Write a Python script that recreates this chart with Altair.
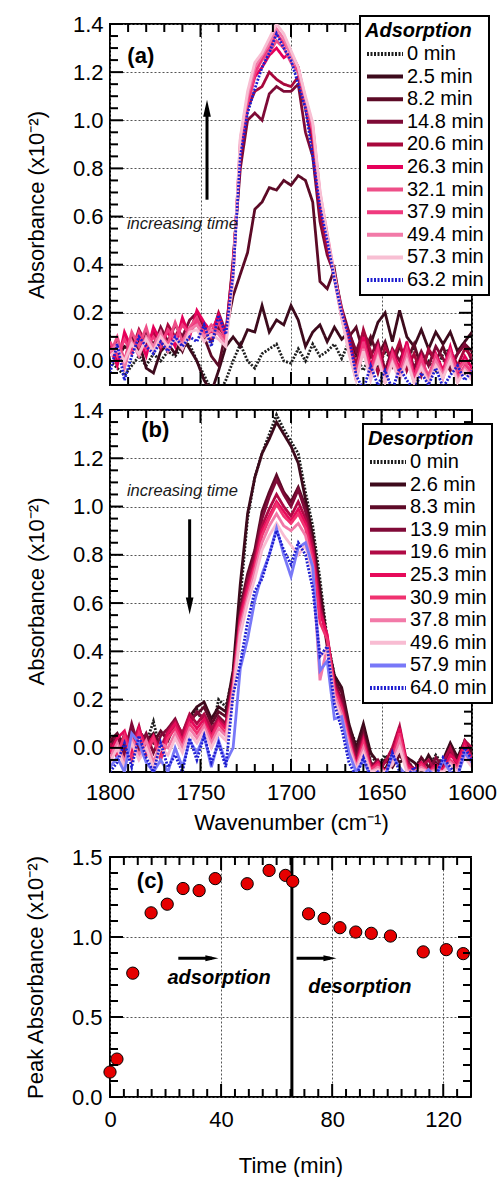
import altair as alt
import pandas as pd

FONT = "Liberation Sans"

# ---------------- data ----------------
wavenumber = [1800, 1796, 1792, 1788, 1784, 1780, 1776, 1772, 1768, 1764,
              1760, 1756, 1752, 1748, 1744, 1740, 1736, 1732, 1728, 1724,
              1720, 1716, 1712, 1708, 1704, 1700, 1696, 1692, 1688, 1684,
              1680, 1676, 1672, 1668, 1664, 1660, 1656, 1652, 1648, 1644,
              1640, 1636, 1632, 1628, 1624, 1620, 1616, 1612, 1608, 1604,
              1600]

ads_labels = ["0 min", "2.5 min", "8.2 min", "14.8 min", "20.6 min", "26.3 min",
              "32.1 min", "37.9 min", "49.4 min", "57.3 min", "63.2 min"]
ads_colors = ["#1e1e1e", "#3d0a1c", "#5c0a26", "#7e0a36", "#a8083c", "#e6005a",
              "#ee4f88", "#f03a7e", "#f27aa8", "#f8bfd3", "#1f1fd0"]
ads_dashes = [[2, 1.5], [1, 0], [1, 0], [1, 0], [1, 0], [1, 0],
              [1, 0], [1, 0], [1, 0], [1, 0], [2, 1.5]]

ads_0 = [0.00, -0.03, -0.06, -0.02, 0.02, -0.02, 0.03, 0.00, 0.04, 0.02,
         0.06, 0.07, 0.00, -0.06, -0.12, -0.14, -0.08, 0.00, 0.07, 0.00,
         -0.03, 0.03, 0.05, 0.07, 0.00, -0.01, 0.05, 0.00, 0.07, 0.02,
         0.04, 0.07, 0.01, 0.08, 0.02, -0.04, 0.03, -0.03, 0.04, 0.00,
         -0.04, 0.02, 0.05, -0.02, 0.00, -0.04, 0.03, 0.05, -0.02, -0.05,
         0.02]
ads_2_5 = [0.05, 0.01, 0.06, 0.04, 0.08, -0.03, -0.05, 0.04, 0.07, 0.03,
           0.10, 0.05, 0.00, -0.08, -0.13, -0.04, 0.06, 0.10, 0.06, 0.13,
           0.12, 0.23, 0.12, 0.17, 0.15, 0.23, 0.17, 0.06, 0.12, 0.15,
           0.08, 0.14, 0.09, 0.12, 0.03, 0.11, 0.07, 0.16, 0.20, 0.08,
           0.21, 0.10, 0.06, 0.13, 0.05, 0.12, 0.07, 0.12, 0.04, 0.08,
           0.12]
ads_8_2 = [0.03, 0.08, 0.00, 0.10, 0.05, 0.10, 0.07, 0.12, 0.05, 0.10,
           0.04, 0.12, 0.16, 0.10, 0.02, -0.02, 0.12, 0.27, 0.36, 0.45,
           0.63, 0.66, 0.72, 0.71, 0.75, 0.73, 0.77, 0.75, 0.66, 0.33,
           0.30, 0.38, 0.20, 0.10, 0.14, 0.03, 0.10, 0.02, 0.08, -0.02,
           0.06, 0.00, 0.07, -0.03, 0.04, 0.00, 0.06, -0.02, 0.03, 0.07,
           0.04]
ads_14_8 = [0.02, 0.08, -0.02, 0.10, 0.04, 0.12, 0.06, 0.14, 0.08, 0.15,
            0.10, 0.17, 0.20, 0.12, 0.08, 0.14, 0.10, 0.42, 0.80, 1.00,
            1.03, 1.00, 1.11, 1.14, 1.12, 1.12, 1.15, 0.95, 0.85, 0.58,
            0.44, 0.36, 0.22, 0.12, 0.04, 0.12, 0.02, 0.08, -0.04, 0.05,
            0.00, 0.07, -0.03, 0.04, -0.02, 0.06, 0.01, -0.04, 0.03, 0.07,
            0.00]
ads_20_6 = [0.05, 0.00, 0.10, 0.04, 0.13, 0.07, 0.12, 0.05, 0.15, 0.10,
            0.16, 0.12, 0.20, 0.15, 0.10, 0.20, 0.12, 0.40, 0.85, 1.05,
            1.12, 1.14, 1.20, 1.17, 1.15, 1.14, 1.18, 1.05, 0.90, 0.62,
            0.47, 0.35, 0.20, 0.10, -0.02, 0.13, 0.04, -0.05, 0.06, 0.00,
            0.08, -0.04, 0.03, -0.06, 0.05, 0.00, -0.05, 0.04, -0.02, 0.05,
            0.02]
ads_26_3 = [0.06, -0.02, 0.12, 0.05, 0.10, 0.02, 0.14, 0.08, 0.12, 0.06,
            0.18, 0.10, 0.21, 0.16, 0.12, 0.19, 0.10, 0.38, 0.88, 1.07,
            1.18, 1.22, 1.27, 1.30, 1.26, 1.28, 1.22, 1.07, 0.95, 0.66,
            0.50, 0.36, 0.19, 0.08, -0.06, 0.10, -0.02, 0.06, -0.08, 0.04,
            -0.03, 0.08, -0.06, 0.02, -0.08, 0.03, -0.04, 0.06, -0.05, 0.02,
            -0.03]
ads_32_1 = [0.03, 0.10, 0.00, 0.12, 0.06, 0.14, 0.04, 0.11, 0.07, 0.16,
            0.08, 0.14, 0.18, 0.11, 0.15, 0.12, 0.08, 0.36, 0.90, 1.08,
            1.20, 1.25, 1.28, 1.33, 1.30, 1.24, 1.20, 1.06, 0.96, 0.68,
            0.52, 0.34, 0.18, 0.05, -0.04, 0.07, -0.06, 0.03, -0.07, 0.02,
            -0.05, 0.05, -0.08, 0.00, -0.06, 0.02, -0.07, 0.03, -0.04, 0.00,
            -0.06]
ads_37_9 = [0.08, 0.02, 0.09, 0.03, 0.12, 0.05, 0.10, 0.06, 0.13, 0.09,
            0.15, 0.11, 0.17, 0.12, 0.10, 0.16, 0.09, 0.37, 0.89, 1.06,
            1.19, 1.26, 1.30, 1.36, 1.32, 1.28, 1.21, 1.08, 0.97, 0.69,
            0.51, 0.35, 0.21, 0.06, -0.08, 0.08, -0.04, 0.05, -0.09, 0.03,
            -0.06, 0.04, -0.07, 0.01, -0.09, 0.01, -0.05, 0.04, -0.07, -0.02,
            -0.04]
ads_49_4 = [0.04, 0.07, -0.03, 0.08, 0.02, 0.10, 0.06, 0.12, 0.04, 0.10,
            0.07, 0.13, 0.15, 0.10, 0.13, 0.11, 0.07, 0.35, 0.92, 1.10,
            1.22, 1.27, 1.32, 1.38, 1.34, 1.27, 1.22, 1.09, 0.98, 0.70,
            0.53, 0.36, 0.19, 0.04, -0.07, 0.05, -0.07, 0.02, -0.08, 0.00,
            -0.07, 0.02, -0.09, -0.02, -0.08, 0.00, -0.06, 0.02, -0.08, -0.03,
            -0.07]
ads_57_3 = [0.02, 0.05, 0.00, 0.07, 0.03, 0.09, 0.04, 0.10, 0.06, 0.09,
            0.05, 0.12, 0.13, 0.08, 0.11, 0.09, 0.06, 0.34, 0.93, 1.12,
            1.24, 1.28, 1.34, 1.40, 1.36, 1.29, 1.22, 1.10, 0.99, 0.71,
            0.52, 0.35, 0.18, 0.03, -0.08, 0.04, -0.08, 0.01, -0.09, -0.01,
            -0.08, 0.00, -0.09, -0.03, -0.09, -0.02, -0.07, 0.00, -0.09, -0.04,
            -0.08]
ads_63_2 = [-0.05, 0.07, -0.08, 0.02, 0.10, 0.06, 0.03, 0.08, 0.04, 0.10,
            0.06, 0.10, 0.08, 0.15, 0.06, 0.19, 0.11, 0.36, 0.85, 1.03,
            1.13, 1.22, 1.28, 1.36, 1.30, 1.25, 1.15, 1.05, 0.85, 0.64,
            0.50, 0.34, 0.20, 0.10, -0.06, -0.12, -0.02, -0.10, -0.04, -0.12,
            -0.03, -0.08, -0.12, -0.05, -0.10, -0.03, -0.11, -0.06, -0.02, -0.08,
            -0.04]
ads_series = [ads_0, ads_2_5, ads_8_2, ads_14_8, ads_20_6, ads_26_3,
              ads_32_1, ads_37_9, ads_49_4, ads_57_3, ads_63_2]

des_labels = ["0 min", "2.6 min", "8.3 min", "13.9 min", "19.6 min", "25.3 min",
              "30.9 min", "37.8 min", "49.6 min", "57.9 min", "64.0 min"]
des_colors = ["#1e1e1e", "#3d0a1c", "#5e0a28", "#800a38", "#b00a45", "#e60a5a",
              "#f03270", "#f27aa8", "#f8bcd2", "#7878f8", "#1f1fd0"]
des_dashes = [[2, 1.5], [1, 0], [1, 0], [1, 0], [1, 0], [1, 0],
              [1, 0], [1, 0], [1, 0], [1, 0], [2, 1.5]]

des_0 = [0.02, 0.05, -0.03, 0.06, 0.00, 0.02, 0.11, -0.02, 0.06, 0.10,
         0.05, 0.12, 0.16, 0.09, 0.06, 0.20, 0.17, 0.30, 0.62, 0.95,
         1.12, 1.22, 1.30, 1.38, 1.32, 1.27, 1.22, 1.06, 0.92, 0.70,
         0.45, 0.30, 0.24, 0.08, 0.02, -0.06, -0.02, -0.08, -0.03, -0.07,
         0.00, -0.05, -0.09, -0.04, -0.08, -0.03, -0.07, -0.02, -0.06, 0.00,
         -0.04]
des_2_6 = [0.04, 0.00, 0.05, -0.02, 0.07, 0.03, 0.06, 0.00, 0.05, 0.09,
           0.06, 0.13, 0.17, 0.19, 0.12, 0.17, 0.15, 0.32, 0.68, 0.97,
           1.12, 1.22, 1.28, 1.35, 1.30, 1.25, 1.18, 1.03, 0.88, 0.66,
           0.44, 0.30, 0.25, 0.10, 0.00, 0.10, -0.02, -0.06, -0.09, -0.03,
           -0.06, -0.04, -0.06, -0.09, -0.03, -0.08, -0.05, 0.02, -0.04, 0.03,
           -0.02]
des_8_3 = [0.03, 0.06, 0.00, 0.08, -0.03, 0.05, 0.02, 0.07, 0.03, 0.10,
           0.04, 0.12, 0.14, 0.17, 0.10, 0.15, 0.13, 0.30, 0.58, 0.72,
           0.82, 0.98, 1.06, 1.13, 1.06, 1.02, 1.08, 1.00, 0.85, 0.62,
           0.42, 0.28, 0.23, 0.08, -0.02, 0.07, -0.06, -0.09, -0.05, -0.08,
           -0.03, -0.07, -0.10, -0.04, -0.08, -0.06, -0.09, 0.00, -0.05, 0.02,
           -0.03]
des_13_9 = [0.00, 0.05, -0.03, 0.10, 0.00, 0.06, -0.02, 0.05, 0.08, 0.12,
            0.05, 0.10, 0.15, 0.12, 0.06, 0.13, 0.10, 0.28, 0.56, 0.70,
            0.80, 0.95, 1.04, 1.11, 1.05, 1.00, 1.07, 0.98, 0.84, 0.60,
            0.44, 0.27, 0.20, 0.06, -0.04, 0.05, -0.08, -0.05, -0.10, -0.06,
            0.02, -0.05, -0.09, -0.07, -0.10, -0.04, -0.08, -0.02, -0.07, 0.01,
            -0.04]
des_19_6 = [0.02, -0.04, 0.06, 0.00, 0.09, -0.03, 0.04, 0.00, 0.07, 0.11,
            0.06, 0.14, 0.10, 0.14, 0.08, 0.12, 0.09, 0.27, 0.55, 0.68,
            0.78, 0.92, 0.99, 1.05, 1.00, 0.96, 1.02, 0.95, 0.83, 0.58,
            0.46, 0.26, 0.18, 0.05, -0.06, 0.04, -0.07, -0.10, -0.06, 0.00,
            0.09, -0.06, -0.10, -0.08, -0.05, -0.10, -0.06, 0.00, -0.08, 0.03,
            0.00]
des_25_3 = [-0.02, 0.04, 0.07, -0.03, 0.08, 0.00, 0.05, -0.04, 0.06, 0.10,
            0.03, 0.12, 0.08, 0.12, 0.05, 0.11, 0.08, 0.26, 0.54, 0.66,
            0.76, 0.90, 0.96, 1.02, 0.98, 0.94, 0.99, 0.93, 0.80, 0.56,
            0.47, 0.25, 0.17, 0.04, -0.07, 0.03, -0.09, -0.06, -0.10, -0.04,
            0.08, -0.07, -0.09, -0.06, -0.10, -0.07, -0.09, -0.03, -0.06, 0.02,
            -0.05]
des_30_9 = [0.00, -0.03, 0.05, -0.05, 0.06, -0.02, 0.04, -0.05, 0.04, 0.08,
            0.02, 0.10, 0.06, 0.10, 0.04, 0.10, 0.06, 0.25, 0.52, 0.64,
            0.75, 0.88, 0.95, 1.01, 0.96, 0.93, 0.97, 0.91, 0.78, 0.52,
            0.45, 0.24, 0.16, 0.03, -0.08, 0.02, -0.09, -0.07, -0.10, -0.05,
            0.06, -0.08, -0.10, -0.07, -0.10, -0.08, -0.10, -0.05, -0.08, 0.00,
            -0.06]
des_37_8 = [-0.04, 0.02, -0.06, 0.04, -0.03, 0.03, -0.06, 0.02, 0.00, 0.06,
            0.00, 0.08, 0.04, 0.09, 0.02, 0.08, 0.05, 0.24, 0.50, 0.62,
            0.73, 0.85, 0.92, 0.97, 0.92, 0.90, 0.93, 0.88, 0.75, 0.28,
            0.42, 0.22, 0.14, 0.02, -0.08, 0.00, -0.10, -0.08, -0.10, -0.06,
            0.03, -0.09, -0.10, -0.08, -0.10, -0.09, -0.10, -0.06, -0.09, -0.02,
            -0.07]
des_49_6 = [-0.06, 0.00, -0.08, 0.02, -0.05, 0.00, -0.08, 0.00, -0.03, 0.04,
            -0.02, 0.06, 0.02, 0.07, 0.00, 0.06, 0.03, 0.22, 0.47, 0.60,
            0.70, 0.82, 0.88, 0.93, 0.88, 0.84, 0.80, 0.84, 0.72, 0.38,
            0.40, 0.20, 0.12, 0.00, -0.09, -0.02, -0.10, -0.09, -0.10, -0.07,
            0.00, -0.10, -0.10, -0.09, -0.10, -0.10, -0.10, -0.07, -0.10, -0.04,
            -0.08]
des_57_9 = [-0.08, -0.04, -0.10, 0.06, 0.02, -0.06, -0.10, -0.05, -0.10, 0.00,
            -0.08, 0.03, -0.02, 0.05, -0.08, 0.03, -0.06, 0.00, 0.33, 0.45,
            0.61, 0.72, 0.80, 0.91, 0.80, 0.71, 0.83, 0.85, 0.75, 0.32,
            0.36, 0.12, 0.13, -0.02, -0.10, -0.05, -0.12, -0.10, -0.12, -0.03,
            -0.08, -0.12, -0.10, -0.12, -0.09, -0.12, -0.05, -0.10, -0.12, -0.02,
            -0.06]
des_64_0 = [-0.10, -0.06, 0.02, -0.08, 0.05, -0.04, -0.10, 0.02, -0.08, -0.03,
            -0.10, 0.04, -0.05, 0.05, -0.06, 0.02, -0.08, 0.22, 0.35, 0.52,
            0.65, 0.70, 0.80, 0.90, 0.82, 0.76, 0.85, 0.80, 0.66, 0.38,
            0.42, 0.18, 0.08, -0.06, -0.12, -0.04, -0.12, -0.10, -0.12, -0.02,
            -0.10, -0.12, -0.08, -0.12, -0.10, -0.12, -0.04, -0.08, -0.12, 0.00,
            -0.05]
des_series = [des_0, des_2_6, des_8_3, des_13_9, des_19_6, des_25_3,
              des_30_9, des_37_8, des_49_6, des_57_9, des_64_0]

time_min = [0, 2.5, 8.2, 14.8, 20.6, 26.3, 32.1, 37.9, 49.4, 57.3, 63.2,
            65.8, 71.5, 77.1, 82.8, 88.5, 94.1, 101.0, 112.8, 121.1, 127.2]
peak_abs = [0.156, 0.237, 0.774, 1.151, 1.205, 1.303, 1.29, 1.365, 1.333, 1.416, 1.385,
            1.348, 1.145, 1.116, 1.058, 1.031, 1.023, 1.006, 0.907, 0.921, 0.896]

switch_time = [65.5]

# axis tick positions
wn_major = [1800, 1750, 1700, 1650, 1600]
wn_minor = [w for w in range(1790, 1600, -10) if w % 50 != 0]
abs_major = [0.0, 0.2, 0.4, 0.6, 0.8, 1.0, 1.2, 1.4]
abs_minor = [-0.05, 0.05, 0.1, 0.15, 0.25, 0.3, 0.35, 0.45, 0.5, 0.55, 0.65, 0.7, 0.75,
             0.85, 0.9, 0.95, 1.05, 1.1, 1.15, 1.25, 1.3, 1.35]
t_major = [0, 40, 80, 120]
t_minor = [t for t in range(5, 130, 5) if t % 40 != 0]
p_major = [0.0, 0.5, 1.0, 1.5]
p_minor = [0.1, 0.2, 0.3, 0.4, 0.6, 0.7, 0.8, 0.9, 1.1, 1.2, 1.3, 1.4]


def long_df(labels, series):
    rows = []
    for lab, vals in zip(labels, series):
        for w, v in zip(wavenumber, vals):
            rows.append({"wn": w, "abs": v, "series": lab})
    return pd.DataFrame(rows)


df_ads = long_df(ads_labels, ads_series)
df_des = long_df(des_labels, des_series)
df_peak = pd.DataFrame({"time": time_min, "peak": peak_abs})

# ---------------- shared styles ----------------
GRID = dict(grid=True, gridDash=[2, 2], gridColor="#555555", gridWidth=1,
            ticks=False, domain=False, labelFlush=False, labelOverlap=False)
MAJ, MIN = 13, 8


def tick_layers(xf, yf, xvals_maj, xvals_min, yvals_maj, yvals_min, W, H):
    out = []
    for vals, L in ((xvals_maj, MAJ), (xvals_min, MIN)):
        d = pd.DataFrame({xf[0]: vals})
        out.append(alt.Chart(d).mark_rule(color="black", strokeWidth=2).encode(
            x=xf[1], y=alt.value(H), y2=alt.value(H - L)))
        out.append(alt.Chart(d).mark_rule(color="black", strokeWidth=2).encode(
            x=xf[1], y=alt.value(0), y2=alt.value(L)))
    for vals, L in ((yvals_maj, MAJ), (yvals_min, MIN)):
        d = pd.DataFrame({yf[0]: vals})
        out.append(alt.Chart(d).mark_rule(color="black", strokeWidth=2).encode(
            y=yf[1], x=alt.value(0), x2=alt.value(L)))
        out.append(alt.Chart(d).mark_rule(color="black", strokeWidth=2).encode(
            y=yf[1], x=alt.value(W), x2=alt.value(W - L)))
    return out


def spectrum_panel(df, labels, colors, dashes, leg_title, legX, legY, x_axis,
                   tag, tag_pos, note_pos, arrow, W, H):
    xs = alt.Scale(domain=[1600, 1800], reverse=True, nice=False, zero=False)
    ys = alt.Scale(domain=[-0.1, 1.4], nice=False, zero=False)
    y_axis = alt.Axis(values=abs_major, format=".1f", labelPadding=7,
                      title="Absorbance (x10⁻²)", titlePadding=24, **GRID)
    X = alt.X("wn:Q", scale=xs, axis=x_axis)
    Y = alt.Y("abs:Q", scale=ys, axis=y_axis)
    Y2 = alt.Y2("abs2:Q")

    leg = alt.Legend(title=leg_title, orient="none", legendX=legX, legendY=legY,
                     symbolType="M-2,0L2,0", symbolSize=324, symbolStrokeWidth=4,
                     symbolOffset=9, labelOffset=11,
                     labelFontSize=20, labelFont=FONT, labelColor="black",
                     titleFontSize=20, titleFont=FONT, titleColor="black",
                     titleFontStyle="italic", titleFontWeight="bold",
                     fillColor="white", strokeColor="black", padding=5,
                     rowPadding=1.6, titlePadding=2, labelLimit=200)

    lines = alt.Chart(df).mark_line(clip=True, strokeWidth=2.8).encode(
        x=X, y=Y,
        color=alt.Color("series:N", scale=alt.Scale(domain=labels, range=colors), legend=leg),
        strokeDash=alt.StrokeDash("series:N", scale=alt.Scale(domain=labels, range=dashes), legend=leg),
    )
    tag_df = pd.DataFrame({"wn": [tag_pos[0]], "abs": [tag_pos[1]], "t": [tag]})
    tag_txt = alt.Chart(tag_df).mark_text(font=FONT, fontSize=22, fontWeight="bold",
                                          color="black", align="center", baseline="middle").encode(
        x=X, y=Y, text="t:N")
    note_df = pd.DataFrame({"wn": [note_pos[0]], "abs": [note_pos[1]], "t": ["increasing time"]})
    note_txt = alt.Chart(note_df).mark_text(font=FONT, fontSize=16.5, fontStyle="italic",
                                            color="#1a1a1a", align="center", baseline="middle").encode(
        x=X, y=Y, text="t:N")
    arr_df = pd.DataFrame({"wn": [arrow[0]], "abs": [arrow[1]], "abs2": [arrow[2]]})
    shaft = alt.Chart(arr_df).mark_rule(color="black", strokeWidth=3).encode(x=X, y=Y, y2=Y2)
    head_df = pd.DataFrame({"wn": [arrow[0]], "abs": [arrow[2]]})
    shape = "M0,-1L0.45,1L-0.45,1Z" if arrow[2] > arrow[1] else "M0,1L0.45,-1L-0.45,-1Z"
    head = alt.Chart(head_df).mark_point(shape=shape, filled=True, size=290, color="black",
                                         opacity=1).encode(x=X, y=Y)
    ticks = tick_layers(("wn", X), ("abs", Y), wn_major, wn_minor, abs_major, abs_minor, W, H)
    return alt.layer(lines, tag_txt, note_txt, shaft, head, *ticks).properties(width=W, height=H)


ax_x_a = alt.Axis(values=wn_major, labels=False, title=None, **GRID)
ax_x_b = alt.Axis(values=wn_major, format="d", labelPadding=10,
                  title="Wavenumber (cm⁻¹)", titlePadding=9, **GRID)

panel_a = spectrum_panel(df_ads, ads_labels, ads_colors, ads_dashes, "Adsorption", 250, -8,
                         ax_x_a, "(a)", (1783, 1.267), (1760, 0.57),
                         (1746.4, 0.67, 1.05), 362, 361)
panel_b = spectrum_panel(df_des, des_labels, des_colors, des_dashes, "Desorption", 253, 14,
                         ax_x_b, "(b)", (1775, 1.317), (1760, 1.064),
                         (1756, 0.947, 0.588), 362, 362)

# ---------------- panel (c) ----------------
Wc, Hc = 361, 240
xs_c = alt.Scale(domain=[0, 130], nice=False, zero=False)
ys_c = alt.Scale(domain=[0, 1.5], nice=False, zero=False)
ax_x_c = alt.Axis(values=t_major, format="d", labelPadding=12, title="Time (min)",
                  titlePadding=25, **GRID)
ax_y_c = alt.Axis(values=p_major, format=".1f", labelPadding=8,
                  title="Peak Absorbance (x10⁻²)", titlePadding=24, **GRID)
Xc = alt.X("time:Q", scale=xs_c, axis=ax_x_c)
Yc = alt.Y("peak:Q", scale=ys_c, axis=ax_y_c)

vline = alt.Chart(pd.DataFrame({"time": switch_time, "peak": [0.0], "peak2": [1.5]})).mark_rule(
    color="black", strokeWidth=3).encode(x=Xc, y=Yc, y2=alt.Y2("peak2:Q"))
pts = alt.Chart(df_peak).mark_circle(color="#e60000", stroke="black", strokeWidth=1,
                                     size=150, opacity=1).encode(x=Xc, y=Yc)
arrows_c = pd.DataFrame({"time": [24.6, 67.2], "time2": [36.7, 79.2], "peak": [0.867, 0.867]})
shafts_c = alt.Chart(arrows_c).mark_rule(color="black", strokeWidth=3).encode(
    x=Xc, x2=alt.X2("time2:Q"), y=Yc)
heads_c = alt.Chart(pd.DataFrame({"time": [36.7, 79.2], "peak": [0.867, 0.867]})).mark_point(
    shape="M1,0L-1,-0.45L-1,0.45Z", filled=True, size=170, color="black", opacity=1).encode(x=Xc, y=Yc)
words_c = alt.Chart(pd.DataFrame({"time": [39.3, 90.0], "peak": [0.743, 0.689],
                                  "t": ["adsorption", "desorption"]})).mark_text(
    font=FONT, fontSize=20, fontWeight="bold", fontStyle="italic", color="black",
    align="center", baseline="middle").encode(x=Xc, y=Yc, text="t:N")
tag_c = alt.Chart(pd.DataFrame({"time": [14.5], "peak": [1.348], "t": ["(c)"]})).mark_text(
    font=FONT, fontSize=22, fontWeight="bold", color="black", align="center",
    baseline="middle").encode(x=Xc, y=Yc, text="t:N")
ticks_c = tick_layers(("time", Xc), ("peak", Yc), t_major, t_minor, p_major, p_minor, Wc, Hc)
panel_c = alt.layer(vline, shafts_c, heads_c, words_c, tag_c, pts, *ticks_c).properties(
    width=Wc, height=Hc)

chart = alt.vconcat(panel_a, panel_b, panel_c, spacing=11).resolve_scale(
    x="independent", y="independent", color="independent", strokeDash="independent"
).properties(
    padding={"left": 23, "top": 12, "right": 0, "bottom": 0},
    background="white",
).configure_view(stroke="black", strokeWidth=2).configure_axis(
    labelFont=FONT, titleFont=FONT, labelFontSize=22, titleFontSize=22,
    labelColor="black", titleColor="black", titleFontWeight="normal"
).configure_legend(strokeWidth=2)

chart.save("out.html", embed_options={"renderer": "svg", "actions": False})
